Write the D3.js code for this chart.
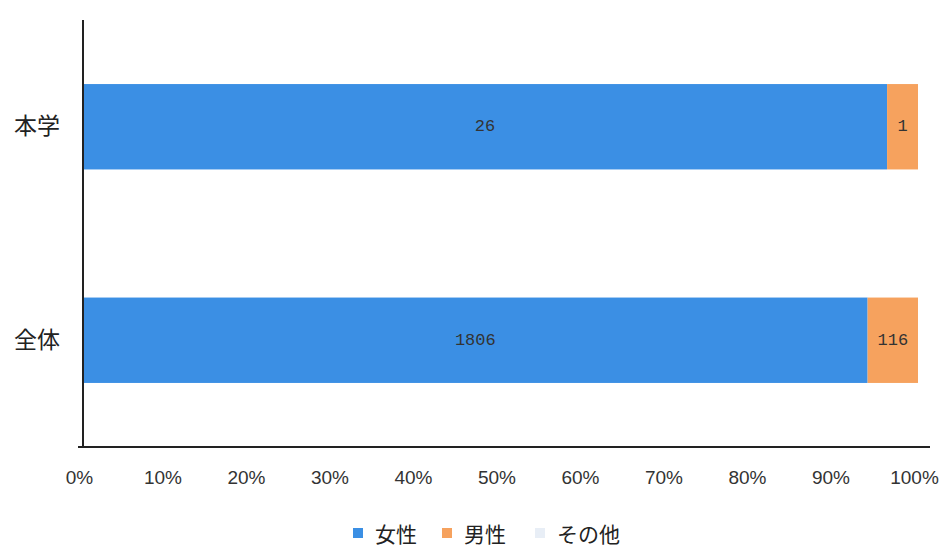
<!DOCTYPE html>
<html><head><meta charset="utf-8">
<script src="https://cdn.jsdelivr.net/npm/d3@7"></script>
<style>body{margin:0;background:#fff}svg{display:block}</style>
</head><body>
<script>
const categories = ["本学", "全体"];
const seriesNames = ["女性", "男性", "その他"];
const femaleValues = [26, 1806];
const maleValues = [1, 116];
const otherValues = [0, 0];
const tickLabels = ["0%","10%","20%","30%","40%","50%","60%","70%","80%","90%","100%"];
const colors = ["#3b8fe4", "#f6a25e", "#e8eef6"];

const W = 949, H = 547;
const svg = d3.select("body").append("svg").attr("width", W).attr("height", H);

const rows = categories.map((c, i) => {
  const vals = [femaleValues[i], maleValues[i], otherValues[i]];
  const tot = d3.sum(vals);
  const o = {cat: c};
  seriesNames.forEach((s, j) => { o[s] = vals[j] / tot; o[s + "_raw"] = vals[j]; });
  return o;
});
const stacked = d3.stack().keys(seriesNames)(rows);

const x = d3.scaleLinear().domain([0, 1]).range([83, 918]);
const y = d3.scaleBand().domain(categories).range([20, 447]).paddingInner(0.6).paddingOuter(0.3);
const color = d3.scaleOrdinal().domain(seriesNames).range(colors);

const g = svg.append("g");
stacked.forEach(layer => {
  layer.forEach(d => {
    const w = x(d[1]) - x(d[0]);
    if (w <= 0) return;
    g.append("rect")
      .attr("x", x(d[0])).attr("y", y(d.data.cat))
      .attr("width", w).attr("height", y.bandwidth())
      .attr("fill", color(layer.key));
    g.append("text")
      .attr("x", (x(d[0]) + x(d[1])) / 2)
      .attr("y", y(d.data.cat) + y.bandwidth() / 2)
      .attr("text-anchor", "middle").attr("dominant-baseline", "central")
      .attr("font-family", "Liberation Mono, DejaVu Sans Mono, monospace")
      .attr("font-size", 17).attr("fill", "#333")
      .text(d.data[layer.key + "_raw"]);
  });
});

// axes lines
svg.append("line").attr("x1", x(0)).attr("x2", x(0)).attr("y1", 20).attr("y2", 447)
  .attr("stroke", "#222").attr("stroke-width", 2);
svg.append("line").attr("x1", x(0) - 5).attr("x2", 930).attr("y1", 447).attr("y2", 447)
  .attr("stroke", "#222").attr("stroke-width", 2);

// x tick labels
const xAxis = d3.axisBottom(x).tickValues(d3.range(0, 1.0001, 0.1))
  .tickFormat((d, i) => tickLabels[i]).tickSize(0).tickPadding(0);
const xa = svg.append("g").attr("transform", "translate(-4,470)").call(xAxis);
xa.select(".domain").remove();
xa.selectAll("text").attr("font-family", "Liberation Sans Narrow, Liberation Sans, sans-serif")
  .attr("font-size", 19).attr("fill", "#333").attr("dy", "0.71em");

// y labels
const yAxis = d3.axisLeft(y).tickSize(0).tickPadding(23);
const ya = svg.append("g").attr("transform", `translate(${x(0)},0)`).call(yAxis);
ya.select(".domain").remove();
ya.selectAll("text").attr("font-family", "Noto Sans CJK JP, sans-serif")
  .attr("font-size", 23).attr("fill", "#222");

// legend
const legendX = [353, 442, 535];
const lg = svg.append("g");
seriesNames.forEach((s, i) => {
  lg.append("rect").attr("x", legendX[i]).attr("y", 528).attr("width", 10).attr("height", 10)
    .attr("fill", color(s));
  lg.append("text").attr("x", legendX[i] + 22).attr("y", 533)
    .attr("dominant-baseline", "central")
    .attr("font-family", "Noto Sans CJK JP, sans-serif").attr("font-size", 21)
    .attr("fill", "#222").text(s);
});
</script>
</body></html>
